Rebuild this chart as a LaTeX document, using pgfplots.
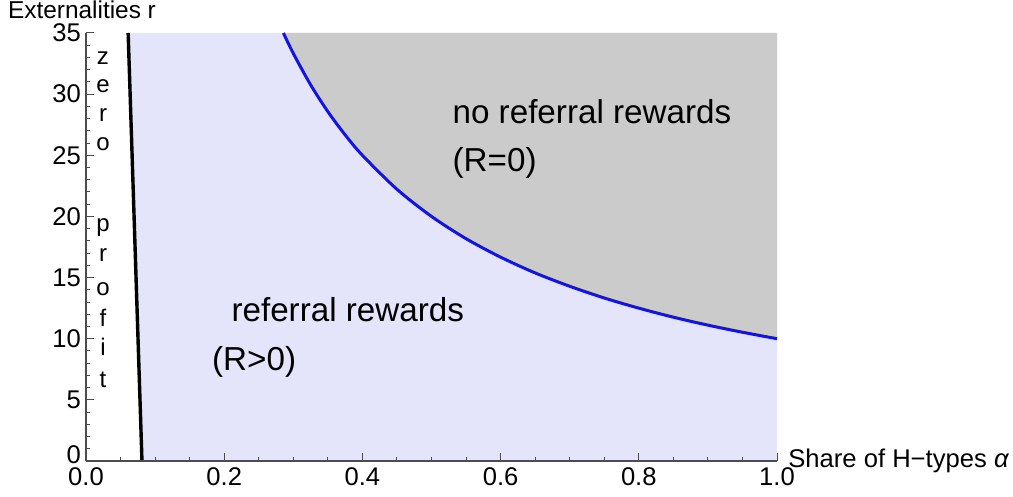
\documentclass[border=0pt]{standalone}
\usepackage{fontspec}
\setmainfont{Liberation Sans}
\usepackage{pgfplots}
\pgfplotsset{compat=1.18}
\definecolor{lav}{RGB}{228,228,250}
\definecolor{gr}{RGB}{203,203,203}
\definecolor{bl}{RGB}{20,20,225}
\begin{document}
\begin{tikzpicture}
\begin{axis}[
 scale only axis, width=345.5pt, height=214pt,
 xmin=0, xmax=1, ymin=0, ymax=35, enlargelimits=false,
 axis lines=left, axis line style={-, black!70, line width=0.6pt},
 xtick={0,0.2,0.4,0.6,0.8,1}, minor x tick num=3,
 ytick={0,5,10,15,20,25,30,35}, minor y tick num=4,
 yticklabels={\raisebox{6pt}{0},5,10,15,20,25,30,35},
 tick align=inside, major tick length=4pt, minor tick length=2pt,
 every tick/.style={black!70, line width=0.5pt},
 x tick label style={/pgf/number format/.cd, fixed, fixed zerofill, precision=1, /tikz/.cd},
 y tick label style={xshift=1pt},
 /pgf/number format/assume math mode=true,
 tick label style={font=\fontsize{12.8}{14}\selectfont},
 axis on top, clip=false,
]
\addplot[fill=lav, draw=none] coordinates {(0.061,35) (0.081,0) (1,0) (1,35)} -- cycle;
\addplot[fill=gr, draw=none] coordinates {
(0.2857,35) (0.3,33.33) (0.325,30.77) (0.35,28.57) (0.375,26.67) (0.4,25) (0.45,22.22) (0.5,20) (0.55,18.18) (0.6,16.67) (0.65,15.38) (0.7,14.29) (0.75,13.33) (0.8,12.5) (0.85,11.76) (0.9,11.11) (0.95,10.53) (1,10) (1,35)} -- cycle;
\addplot[bl, line width=1.5pt, smooth] coordinates {
(0.2857,35) (0.3,33.33) (0.325,30.77) (0.35,28.57) (0.375,26.67) (0.4,25) (0.45,22.22) (0.5,20) (0.55,18.18) (0.6,16.67) (0.65,15.38) (0.7,14.29) (0.75,13.33) (0.8,12.5) (0.85,11.76) (0.9,11.11) (0.95,10.53) (1,10)};
\addplot[black, line width=1.7pt] coordinates {(0.061,35) (0.081,0)};
\coordinate (bl) at (rel axis cs:0,0);
\coordinate (tr) at (rel axis cs:1,1);
\begin{scope}[every node/.style={inner sep=0pt, font=\fontsize{16.6}{19}\selectfont}]
\node[anchor=base west] at (axis cs:0.53,27.6) {no referral rewards};
\node[anchor=base west] at (axis cs:0.53,23.7) {(R=0)};
\node[anchor=base west] at (axis cs:0.21,11.4) {referral rewards};
\node[anchor=base west] at (axis cs:0.182,7.4) {(R>0)};
\end{scope}
\begin{scope}[every node/.style={inner sep=0pt, anchor=base, font=\fontsize{12}{14}\selectfont}]
\node at (axis cs:0.0246,32.4) {z};
\node at (axis cs:0.0246,30.1) {e};
\node at (axis cs:0.0246,27.8) {r};
\node at (axis cs:0.0246,25.4) {o};
\node at (axis cs:0.0246,18.8) {p};
\node at (axis cs:0.0246,16.3) {r};
\node at (axis cs:0.0246,13.5) {o};
\node at (axis cs:0.0246,11.0) {f};
\node at (axis cs:0.0246,8.6) {i};
\node at (axis cs:0.0246,6.0) {t};
\end{scope}
\node[inner sep=0pt, anchor=base, font=\fontsize{12.2}{14}\selectfont] at ([xshift=-2pt,yshift=7pt]tr -| bl) {Externalities r};
\node[inner sep=0pt, anchor=base west, font=\fontsize{12.8}{14}\selectfont] at ([xshift=5.5pt,yshift=-3.5pt]bl -| tr) {Share of H−types \textit{α}};
\end{axis}
\pgfresetboundingbox
\path[use as bounding box] ([xshift=-43pt,yshift=-18pt]bl) rectangle ([xshift=118pt,yshift=16.5pt]tr);
\end{tikzpicture}
\end{document}
